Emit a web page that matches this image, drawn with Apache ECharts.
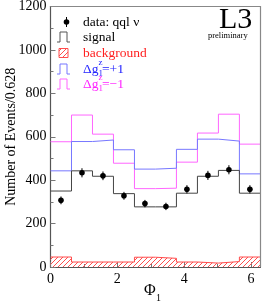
<!DOCTYPE html>
<html><head><meta charset="utf-8">
<script src="https://cdn.jsdelivr.net/npm/echarts@6/dist/echarts.min.js"></script>
<style>html,body{margin:0;padding:0;background:#fff}#c{width:262px;height:302px}</style>
</head><body><div id="c"></div>
<script>
// ---- data ----
const binWidth = 0.628;
const nBins = 10;
const dataValues = [307, 434, 420, 328, 292, 279, 358, 422, 448, 358];
const dataErrors = [18, 21, 20, 18, 17, 17, 19, 21, 21, 19];
const signal = [350, 443, 418, 338, 277, 277, 340, 418, 445, 340];
const background = [46, 23, 23, 23, 45, 40, 23, 18, 25, 46];
const dgPlus = [443, 578, 585, 540, 451, 455, 542, 589, 580, 429];
const dgMinus = [577, 700, 612, 478, 361, 363, 483, 617, 704, 566];
const yTicks = [0, 200, 400, 600, 800, 1000, 1200];
const xTicks = [0, 2, 4, 6];

const FONT = 'Liberation Serif';
const edges = [];
for (let i = 0; i <= nBins; i++) edges.push(i * binWidth);
function steps(vals) {
  const d = vals.map((v, i) => [edges[i], v]);
  d.push([edges[nBins], vals[nBins - 1]]);
  return d;
}
const centers = dataValues.map((v, i) => [edges[i] + binWidth / 2, v, dataErrors[i]]);

// hatch pattern
const pc = document.createElement('canvas');
pc.width = 5; pc.height = 5;
const g = pc.getContext('2d');
g.strokeStyle = '#ff4d4d'; g.lineWidth = 1;
g.beginPath(); g.moveTo(0, 5); g.lineTo(5, 0); g.stroke();
g.beginPath(); g.moveTo(-1, 1); g.lineTo(1, -1); g.stroke();
g.beginPath(); g.moveTo(4, 6); g.lineTo(6, 4); g.stroke();

const chart = echarts.init(document.getElementById('c'), null, {renderer: 'canvas'});

function histo(name, vals, color, z) {
  return {name, type: 'line', step: 'end', data: steps(vals), symbol: 'none',
    lineStyle: {color, width: 1}, z: z || 2, animation: false};
}

const rowY = [22, 37, 53, 69, 84];
const iconX0 = 57, iconX1 = 70, txtX = 83;
function stepIcon(y, color) {
  return {type: 'polyline', shape: {points: [[iconX0, y + 5], [iconX0 + 3, y + 5], [iconX0 + 3, y - 5], [iconX1 - 3, y - 5], [iconX1 - 3, y + 5], [iconX1, y + 5]]},
    style: {stroke: color, fill: null, lineWidth: 1}};
}
function txt(x, y, s, color, size) {
  return {type: 'text', x, y, style: {text: s, fill: color, font: (size || 13.5) + 'px "' + FONT + '"', textVerticalAlign: 'middle', verticalAlign: 'middle'}};
}
function dgLabel(y, color, sign) {
  return [
    txt(txtX, y, 'Δg', color),
    txt(98.5, y - 6, 'z', color, 9),
    txt(98.5, y + 5, '1', color, 9),
    txt(102, y, '=' + sign + '1', color)
  ];
}

const graphic = [
  {type: 'line', shape: {x1: 66.5, y1: rowY[0] - 5, x2: 66.5, y2: rowY[0] + 5}, style: {stroke: '#000', lineWidth: 1}},
  {type: 'circle', shape: {cx: 66.5, cy: rowY[0], r: 2.8}, style: {fill: '#000'}},
  txt(txtX, rowY[0], 'data: qql ν', '#000'),
  stepIcon(rowY[1], '#555'),
  txt(txtX, rowY[1], 'signal', '#000'),
  {type: 'rect', shape: {x: 59, y: rowY[2] - 4.5, width: 9, height: 9}, style: {fill: {image: pc, repeat: 'repeat'}, stroke: '#ff4d4d', lineWidth: 1}},
  txt(txtX, rowY[2], 'background', '#ff2020'),
  stepIcon(rowY[3], '#7777ff'),
  ...dgLabel(rowY[3], '#2222ff', '+'),
  stepIcon(rowY[4], '#ff66ff'),
  ...dgLabel(rowY[4], '#ff22ff', '−'),
  {type: 'text', x: 219, y: 5, style: {text: 'L3', fill: '#000', font: '30px "' + FONT + '"'}},
  {type: 'text', x: 208, y: 31, style: {text: 'preliminary', fill: '#000', font: '8.5px "' + FONT + '"'}},
  {type: 'text', x: 144, y: 283, style: {text: 'Φ', fill: '#000', font: '16px "' + FONT + '"'}},
  {type: 'text', x: 156, y: 293, style: {text: '1', fill: '#000', font: '10px "' + FONT + '"'}},
  // top/right frame
  {type: 'polyline', shape: {points: [[50.5, 6.5], [260.5, 6.5], [260.5, 267]]}, style: {stroke: '#888', fill: null, lineWidth: 1.2}, z: 10}
];

chart.setOption({
  animation: false,
  grid: {left: 50.5, right: 1.5, top: 6.5, bottom: 35, containLabel: false, outerBoundsMode: 'none'},
  xAxis: {type: 'value', min: 0, max: 2 * Math.PI, interval: 2,
    axisLine: {lineStyle: {color: '#555', width: 1.2}},
    axisTick: {inside: true, length: 5, lineStyle: {color: '#777'}},
    minorTick: {show: true, splitNumber: 2, length: 3, lineStyle: {color: '#777'}},
    splitLine: {show: false},
    axisLabel: {color: '#000', fontFamily: FONT, fontSize: 14, margin: 5,
      formatter: v => (xTicks.indexOf(Math.round(v * 1000) / 1000) >= 0 ? String(v) : '')}
  },
  yAxis: {type: 'value', min: 0, max: 1200, interval: 200,
    name: 'Number of Events/0.628', nameLocation: 'middle', nameGap: 32, nameRotate: 90,
    nameMoveOverlap: false,
    nameTextStyle: {fontFamily: FONT, fontSize: 14, color: '#000'},
    axisLine: {show: true, lineStyle: {color: '#555', width: 1.2}},
    axisTick: {inside: true, length: 5, lineStyle: {color: '#777'}},
    minorTick: {show: true, splitNumber: 2, length: 3, lineStyle: {color: '#777'}},
    splitLine: {show: false},
    axisLabel: {color: '#000', fontFamily: FONT, fontSize: 14, margin: 4,
      formatter: v => (yTicks.indexOf(v) >= 0 ? String(v) : '')}
  },
  series: [
    Object.assign(histo('background', background, '#ff4d4d', 1), {areaStyle: {color: {image: pc, repeat: 'repeat'}, opacity: 1}}),
    histo('dg-', dgMinus, '#ff66ff', 2),
    histo('dg+', dgPlus, '#7777ff', 3),
    histo('signal', signal, '#444', 4),
    {type: 'custom', name: 'data', data: centers, z: 5,
      renderItem: (params, api) => {
        const x = api.value(0), y = api.value(1), e = api.value(2);
        const p = api.coord([x, y]), lo = api.coord([x, y - e]), hi = api.coord([x, y + e]);
        return {type: 'group', children: [
          {type: 'line', shape: {x1: p[0], y1: lo[1], x2: p[0], y2: hi[1]}, style: {stroke: '#000', lineWidth: 1}},
          {type: 'circle', shape: {cx: p[0], cy: p[1], r: 2.8}, style: {fill: '#000'}}
        ]};
      }}
  ],
  graphic
});
</script></body></html>
